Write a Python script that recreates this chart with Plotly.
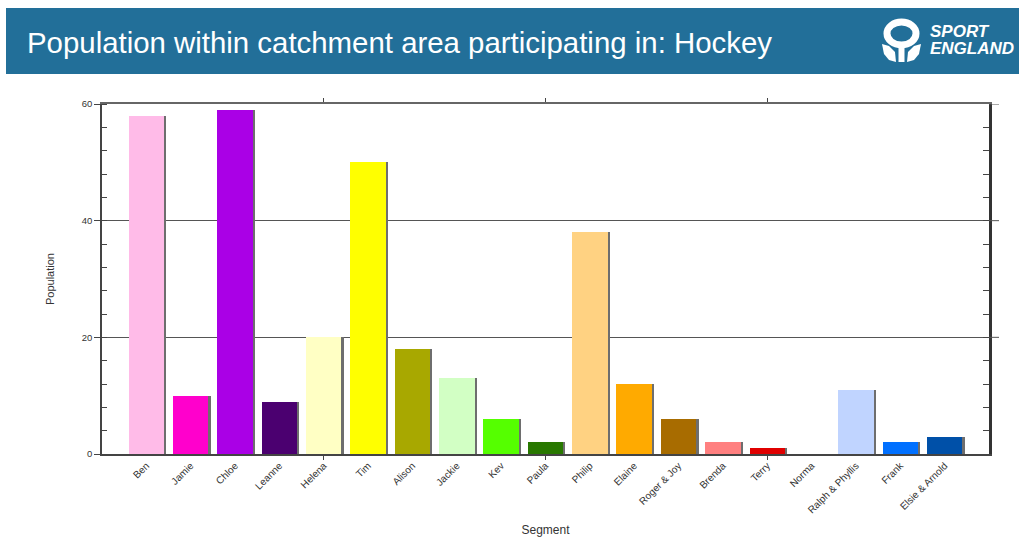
import plotly.graph_objects as go

segments = ["Ben", "Jamie", "Chloe", "Leanne", "Helena", "Tim", "Alison", "Jackie", "Kev", "Paula",
            "Philip", "Elaine", "Roger & Joy", "Brenda", "Terry", "Norma", "Ralph & Phyllis", "Frank",
            "Elsie & Arnold"]
population = [58, 10, 59, 9, 20, 50, 18, 13, 6, 2, 38, 12, 6, 2, 1, 0, 11, 2, 3]
colors = ["#FFBBE8", "#FF00CC", "#AA00E6", "#4B0070", "#FFFFC4", "#FFFF00", "#A8A800", "#D2FFC4",
          "#55FF00", "#287800", "#FFD282", "#FFAA00", "#A86C00", "#FF8080", "#E00000", "#808080",
          "#C0D4FF", "#0070FF", "#0050A8"]
y_ticks = [0, 20, 40, 60]
x_marks = [4, 9, 14]

W, H = 1019, 537
L, R, T, B = 102, 989, 104, 454


def px(x):
    return (x - L) / (R - L)


def py(y):
    return (B - y) / (B - T)


xs = list(range(len(segments)))

fig = go.Figure()
# shadow
fig.add_trace(go.Bar(x=xs, y=population, width=0.8, offset=-0.4 + 0.05,
                     marker=dict(color="#6e6e6e", line=dict(width=0)), hoverinfo="skip",
                     showlegend=False))
fig.add_trace(go.Bar(x=xs, y=population, width=0.8, offset=-0.4,
                     marker=dict(color=colors, line=dict(width=0)), showlegend=False))
# dummy traces for extra axes
fig.add_trace(go.Scatter(x=[None], y=[None], xaxis="x2", yaxis="y", showlegend=False))
fig.add_trace(go.Scatter(x=[None], y=[None], xaxis="x3", yaxis="y", showlegend=False))
fig.add_trace(go.Scatter(x=[None], y=[None], xaxis="x", yaxis="y2", showlegend=False))

font_family = "Liberation Sans, Arial, sans-serif"

fig.update_layout(
    width=W, height=H,
    margin=dict(l=L, r=W - R, t=T, b=H - B, autoexpand=False),
    paper_bgcolor="white", plot_bgcolor="white",
    barmode="overlay", bargap=0,
    font=dict(family=font_family, color="#333333"),
    xaxis=dict(range=[-1, 19], tickmode="array", tickvals=xs, ticktext=segments,
               tickangle=-45, tickfont=dict(size=10, color="#333"), ticks="",
               showgrid=False, zeroline=False, showline=True, linecolor="#444", linewidth=2,
               title=dict(text="Segment", font=dict(size=12, color="#333"), standoff=22),
               automargin=False, fixedrange=True),
    xaxis2=dict(range=[-1, 19], overlaying="x", side="bottom", anchor="y", tickmode="array",
                tickvals=x_marks, showticklabels=False, ticks="outside", ticklen=5,
                tickcolor="#444", showgrid=False, zeroline=False, showline=False,
                automargin=False, fixedrange=True),
    xaxis3=dict(range=[-1, 19], overlaying="x", side="top", anchor="y", tickmode="array",
                tickvals=x_marks, showticklabels=False, ticks="outside", ticklen=4,
                tickcolor="#444", showgrid=False, zeroline=False, showline=True,
                linecolor="#666", linewidth=1.5, automargin=False, fixedrange=True),
    yaxis=dict(range=[0, 60], tickmode="array", tickvals=y_ticks, ticks="outside", ticklen=6,
               tickcolor="#444", tickfont=dict(size=9.5, color="#333"),
               showgrid=True, gridcolor="#555", gridwidth=1, zeroline=False,
               showline=True, linecolor="#444", linewidth=1.5,
               minor=dict(dtick=4, ticks="inside", ticklen=5, tickcolor="#444", showgrid=False),
               title=dict(text="Population", font=dict(size=11, color="#333"), standoff=25),
               automargin=False, fixedrange=True),
    yaxis2=dict(range=[0, 60], overlaying="y", side="right", anchor="x", tickmode="linear",
                tick0=0, dtick=4, ticks="inside", ticklen=6, tickcolor="#444",
                showticklabels=False, showgrid=False, zeroline=False,
                showline=True, linecolor="#333", linewidth=2.5, automargin=False,
                fixedrange=True),
)

shapes = []
# gridline extensions beyond right axis
for v in y_ticks[1:]:
    shapes.append(dict(type="line", xref="paper", yref="y", x0=1.0, x1=px(999), y0=v, y1=v,
                       line=dict(color="#555", width=1)))
# header bar
shapes.append(dict(type="rect", xref="paper", yref="paper", x0=px(6), x1=px(1019),
                   y0=py(74), y1=py(8), fillcolor="#226f99", line=dict(width=0), layer="above"))
# logo icon
shapes.append(dict(type="circle", xref="paper", yref="paper", x0=px(887), x1=px(916),
                   y0=py(45), y1=py(22), fillcolor="rgba(0,0,0,0)",
                   line=dict(color="white", width=7), layer="above"))
shapes.append(dict(type="rect", xref="paper", yref="paper", x0=px(898.5), x1=px(904.5),
                   y0=py(62), y1=py(44), fillcolor="white", line=dict(width=0), layer="above"))


def path_from(points):
    s = "M " + " L ".join(f"{px(a):.5f},{py(b):.5f}" for a, b in points) + " Z"
    return s


left_leaf = [(882, 44), (889, 46), (895, 52), (896, 62), (889, 60), (884, 54)]
right_leaf = [(921, 44), (914, 46), (908, 52), (907, 62), (914, 60), (919, 54)]
for lf in (left_leaf, right_leaf):
    shapes.append(dict(type="path", xref="paper", yref="paper", path=path_from(lf),
                       fillcolor="white", line=dict(width=0), layer="above"))
fig.update_layout(shapes=shapes)

annotations = [
    dict(text="Population within catchment area participating in: Hockey", xref="paper",
         yref="paper", x=px(25), y=py(42), xanchor="left", yanchor="middle", showarrow=False,
         font=dict(size=29.4, color="white", family=font_family)),
    dict(text="<b><i>SPORT</i></b>", xref="paper", yref="paper", x=px(928), y=py(32),
         xanchor="left", yanchor="middle", showarrow=False,
         font=dict(size=17, color="white", family=font_family)),
    dict(text="<b><i>ENGLAND</i></b>", xref="paper", yref="paper", x=px(928), y=py(49),
         xanchor="left", yanchor="middle", showarrow=False,
         font=dict(size=17, color="white", family=font_family)),
]
fig.update_layout(annotations=annotations)

fig.write_html("out.html", config={"displayModeBar": False},
               post_script="document.body.style.margin='0';document.body.style.overflow='hidden';")
